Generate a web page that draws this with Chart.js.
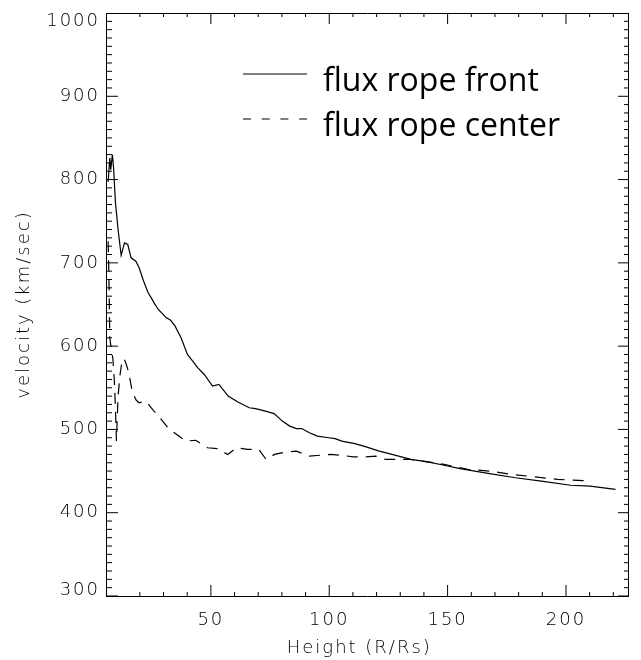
<!DOCTYPE html>
<html>
<head>
<meta charset="utf-8">
<title>flux rope velocity</title>
<script src="https://cdn.jsdelivr.net/npm/chart.js@4.4.1/dist/chart.umd.min.js"></script>
<style>
  html, body { margin: 0; padding: 0; background: #fff; }
  #wrap { position: relative; width: 641px; height: 660px; }
  #wrap canvas { position: absolute; left: 0; top: 0; }
  .lg-row { position: absolute; left: 243px; height: 32px; width: 360px; }
  .lg-row svg { position: absolute; left: 0; top: 5px; }
  .lg-row span { position: absolute; left: 80px; top: 0; font: 32px/32px 'Open Sans', sans-serif; color: #000; white-space: nowrap; }
</style>
</head>
<body>
<div id="wrap">
  <canvas id="chart" width="641" height="660"></canvas>
  <div id="legend"></div>
</div>
<script>
// --- values: height (R/Rs) vs velocity (km/sec) ---
const frontHeight = [6.6, 7.3, 7.7, 8.4, 8.9, 9.7, 10.8, 12.1, 13.5, 14.9, 16.3, 18.3, 19.7, 21.6, 23.5,
  25.0, 26.2, 27.8, 31.2, 33.0, 34.9, 37.4, 40.1, 42.9, 44.5, 47.2, 50.7, 53.4, 57.3, 61.4,
  66.2, 68.9, 73.0, 76.7, 80.2, 83.3, 86.1, 88.4, 91.6, 95.0, 99.8, 102.5, 105.3, 110.8, 115.6,
  121.1, 126.5, 134.5, 141.6, 148.5, 155.3, 167.7, 178.7, 189.6, 202.0, 210.2, 220.9];
const frontVelocity = [797, 826, 812, 830, 814, 772, 740, 709, 724, 722, 706, 702, 694, 678, 664,
  657, 651, 644, 634, 631, 624, 610, 590, 580, 574, 566, 552, 554, 540, 533,
  526, 525, 522, 519, 510, 504, 501, 501, 496, 492, 490, 489, 486, 483, 479,
  474, 470, 464, 461, 457, 453, 447, 442, 438, 433, 432, 428];

const centerHeight = [6.6, 6.9, 7.3, 8.0, 8.6, 9.2, 9.7, 10.1, 10.8, 11.6, 12.5, 13.3, 14.3, 15.3, 16.9,
  18.5, 19.7, 22.5, 25.7, 28.5, 31.9, 35.0, 39.5, 43.6, 48.6, 52.7, 57.1, 60.9, 65.5, 70.3,
  73.3, 76.9, 82.0, 86.1, 91.6, 100.5, 105.3, 110.1, 114.9, 119.7, 123.8, 129.3, 134.1, 141.6, 148.5,
  158.5, 167.7, 177.3, 186.9, 196.5, 210.9];
const centerVelocity = [726, 690, 610, 595, 585, 560, 525, 486, 540, 565, 583, 585, 578, 568, 544,
  535, 532, 534, 523, 514, 502, 495, 486, 487, 478, 477, 470, 478, 476, 476,
  464, 470, 473, 474, 468, 470, 469, 467, 467, 468, 464, 464, 464, 461, 458,
  452, 450, 446, 443, 440, 438];

const seriesLabels = ['flux rope front', 'flux rope center'];

// --- axes ---
const xRange = [5.7, 226.2];
const yRange = [300, 1000];
const xTickLabels = [50, 100, 150, 200];
const yTickLabels = [300, 400, 500, 600, 700, 800, 900, 1000];
const xMinorStart = 20, xMinorStep = 10;
const yMinorStep = 10;

// --- style ---
const AXIS_FONT = 'DejaVu Sans';
const AXIS_SIZE = 18;
const TEXT_COLOR = '#000';
const LABEL_SPACING = '2px';
const LEGEND_TOP = 63, LEGEND_GAP = 45;
const seriesDashes = [[], [11, 8]];
const legendDashes = [[], [8, 10.7]];
// inward tick lengths (major / minor) on each side
const TICK_LEN = { bottom: [11, 4], top: [11, 4], left: [12, 6], right: [10, 4] };

const toPoints = (xs, ys) => xs.map((x, i) => ({ x, y: ys[i] }));

function minorValues(start, end, step) {
  const out = [];
  for (let v = start; v <= end + 1e-9; v += step) out.push(Math.round(v * 1000) / 1000);
  return out;
}
const xTickValues = minorValues(xMinorStart, xRange[1], xMinorStep);
const yTickValues = minorValues(yRange[0], yRange[1], yMinorStep);

// --- legend (inside the plot, upper right) ---
const legendBox = document.getElementById('legend');
seriesLabels.forEach((label, i) => {
  const row = document.createElement('div');
  row.className = 'lg-row';
  row.style.top = (LEGEND_TOP + i * LEGEND_GAP) + 'px';
  row.innerHTML =
    `<svg width="64" height="12"><line x1="0" y1="6" x2="64" y2="6" stroke="#000" stroke-width="1.2"` +
    (legendDashes[i].length ? ` stroke-dasharray="${legendDashes[i].join(' ')}"` : '') + `/></svg>` +
    `<span>${label}</span>`;
  legendBox.appendChild(row);
});

// tick marks as 'line' points centred on the frame; clip: 0 keeps only the inner half
function tickMarks(xs, ys, majors, values, lens, rotation) {
  const radii = values.map(v => (majors.includes(v) ? lens[0] : lens[1]));
  return {
    label: '',
    data: toPoints(xs, ys),
    showLine: false,
    pointStyle: 'line',
    pointRotation: rotation,
    pointRadius: radii,
    pointHoverRadius: radii,
    pointBorderColor: '#000',
    pointBackgroundColor: '#000',
    pointBorderWidth: 1,
    clip: 0,
  };
}
const atX = v => xTickValues.map(() => v);
const atY = v => yTickValues.map(() => v);

// letter spacing only while the axis text is drawn
const spacedText = {
  id: 'spacedText',
  beforeDraw(chart) {
    ['x', 'y'].forEach(id => {
      const s = chart.scales[id];
      if (!s || s._spaced) return;
      ['drawLabels', 'drawTitle'].forEach(m => {
        const f = s[m];
        s[m] = function (...args) {
          const c = this.ctx;
          c.save();
          c.letterSpacing = LABEL_SPACING;
          f.apply(this, args);
          c.restore();
        };
      });
      s._spaced = true;
    });
  },
};

const axisFont = { family: AXIS_FONT, size: AXIS_SIZE, weight: '200' };
const frameBorder = { display: true, color: '#000', width: 1 };

new Chart(document.getElementById('chart'), {
  type: 'line',
  data: {
    datasets: [
      {
        label: seriesLabels[0],
        data: toPoints(frontHeight, frontVelocity),
        borderColor: '#000',
        borderWidth: 1.2,
        borderDash: seriesDashes[0],
        pointRadius: 0,
        tension: 0,
      },
      {
        label: seriesLabels[1],
        data: toPoints(centerHeight, centerVelocity),
        borderColor: '#000',
        borderWidth: 1.2,
        borderDash: seriesDashes[1],
        pointRadius: 0,
        tension: 0,
      },
      tickMarks(xTickValues, atX(yRange[0]), xTickLabels, xTickValues, TICK_LEN.bottom, 90),
      tickMarks(xTickValues, atX(yRange[1]), xTickLabels, xTickValues, TICK_LEN.top, 90),
      tickMarks(atY(xRange[0]), yTickValues, yTickLabels, yTickValues, TICK_LEN.left, 0),
      tickMarks(atY(xRange[1]), yTickValues, yTickLabels, yTickValues, TICK_LEN.right, 0),
    ],
  },
  options: {
    responsive: false,
    animation: false,
    events: [],
    layout: { padding: { top: 13, right: 0, bottom: 0, left: 0 } },
    plugins: {
      tooltip: { enabled: false },
      legend: { display: false },
    },
    scales: {
      x: {
        type: 'linear',
        position: 'bottom',
        min: xRange[0],
        max: xRange[1],
        afterBuildTicks: s => { s.ticks = xTickLabels.map(v => ({ value: v })); },
        afterFit: s => { s.height = 64; s.paddingLeft = 0; s.paddingRight = 0; },
        grid: { display: false, drawTicks: false },
        border: frameBorder,
        ticks: {
          autoSkip: false,
          maxRotation: 0,
          padding: 14,
          color: TEXT_COLOR,
          font: axisFont,
          callback: v => String(v),
        },
        title: {
          display: true,
          text: 'Height (R/Rs)\u00a0\u00a0',
          color: TEXT_COLOR,
          font: axisFont,
          padding: { top: 0, bottom: 1 },
        },
      },
      x2: {
        type: 'linear',
        position: 'top',
        display: true,
        min: xRange[0],
        max: xRange[1],
        afterFit: s => { s.height = 0; s.paddingLeft = 0; s.paddingRight = 0; },
        grid: { display: false, drawTicks: false },
        border: frameBorder,
        ticks: { display: false },
      },
      y: {
        type: 'linear',
        position: 'left',
        min: yRange[0],
        max: yRange[1],
        afterBuildTicks: s => { s.ticks = yTickLabels.map(v => ({ value: v })); },
        afterFit: s => { s.width = 106; s.paddingTop = 0; s.paddingBottom = 0; },
        grid: { display: false, drawTicks: false },
        border: frameBorder,
        ticks: {
          autoSkip: false,
          padding: 6,
          color: TEXT_COLOR,
          // the end labels sit just inside the frame, as in the reference
          font: c => {
            const v = c.tick && c.tick.value;
            const lh = v === yRange[1] ? 16 / AXIS_SIZE : v === yRange[0] ? 12 / AXIS_SIZE : 1.2;
            return { ...axisFont, lineHeight: lh };
          },
          callback: v => v === yRange[1] ? ['', String(v)] : v === yRange[0] ? [String(v), ''] : String(v),
        },
        title: {
          display: true,
          text: 'velocity (km/sec)',
          color: TEXT_COLOR,
          font: axisFont,
          padding: { top: 14, bottom: 0 },
        },
      },
      y2: {
        type: 'linear',
        position: 'right',
        display: true,
        min: yRange[0],
        max: yRange[1],
        afterFit: s => { s.width = 0; s.paddingTop = 0; s.paddingBottom = 0; },
        grid: { display: false, drawTicks: false },
        border: frameBorder,
        ticks: { display: false },
      },
    },
  },
  plugins: [spacedText],
});
</script>
</body>
</html>
